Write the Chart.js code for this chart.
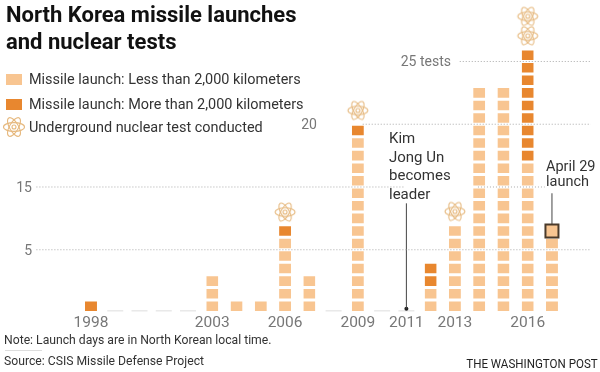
<!DOCTYPE html>
<html>
<head>
<meta charset="utf-8">
<script src="https://cdn.jsdelivr.net/npm/chart.js@4"></script>
<style>
  html, body { margin: 0; padding: 0; background: #fff; }
  #wrap { position: relative; width: 600px; height: 372px; overflow: hidden; font-family: "Liberation Sans", Arial, sans-serif; color: #333; }
  canvas { position: absolute; left: 0; top: 0; }
  .txt { position: absolute; white-space: nowrap; }
  h1 { position: absolute; left: 6px; top: 1px; margin: 0; font-size: 22px; line-height: 27px; font-weight: bold; color: #111; font-family: Roboto, sans-serif; }
  .leg { font-family: Roboto, sans-serif; font-size: 14.45px; left: 29px; color: #333; }
  .sw { position: absolute; left: 6px; width: 16px; height: 11px; }
  .ann { font-family: Roboto, sans-serif; font-size: 15px; color: #333; }
  .grid { font-family: Roboto, sans-serif; font-size: 14px; color: #777; transform: translate(-100%, -50%); }
  .foot { font-family: Roboto, sans-serif; font-size: 12.2px; color: #333; left: 4px; }
</style>
</head>
<body>
<div id="wrap">
  <canvas id="myChart" width="600" height="372"></canvas>
  <h1>North Korea missile launches<br>and nuclear tests</h1>
  <div class="sw" style="top:74px;background:#f8c591"></div>
  <div class="txt leg" style="top:71px">Missile launch: Less than 2,000 kilometers</div>
  <div class="sw" style="top:99px;background:#e8872f"></div>
  <div class="txt leg" style="top:96px">Missile launch: More than 2,000 kilometers</div>
  <canvas id="legendAtom" width="24" height="24" style="left:2px;top:115px"></canvas>
  <div class="txt leg" style="top:119px">Underground nuclear test conducted</div>
  <div class="txt ann" style="left:389px;top:129px;line-height:18.5px">Kim<br>Jong Un<br>becomes<br>leader</div>
  <div class="txt ann" style="left:546px;top:159px;line-height:15px;font-size:14.5px">April 29<br>launch</div>
  <div class="txt foot" style="top:333px">Note: Launch days are in North Korean local time.</div>
  <div style="position:absolute;left:5px;top:350px;width:37px;height:1px;background:#ddd"></div>
  <div class="txt foot" style="top:354px">Source: CSIS Missile Defense Project</div>
  <div class="txt" style="right:2px;top:356px;font:13px Roboto, sans-serif;color:#222;transform:scaleX(0.89);transform-origin:right center">THE WASHINGTON POST</div>
</div>
<script>
const years = [1998, 1999, 2000, 2001, 2002, 2003, 2004, 2005, 2006, 2007, 2008, 2009, 2010, 2011, 2012, 2013, 2014, 2015, 2016, 2017];
const shortRange = [0, 0, 0, 0, 0, 3, 1, 1, 6, 3, 0, 14, 0, 0, 2, 7, 18, 18, 12, 7];
const longRange = [1, 0, 0, 0, 0, 0, 0, 0, 1, 0, 0, 1, 0, 0, 2, 0, 0, 0, 9, 0];
const nuclearX = [2006, 2009, 2013, 2016, 2016];
const nuclearY = [8, 16.1, 8.05, 22.05, 23.6];
const tickYears = [1998, 2003, 2006, 2009, 2011, 2013, 2016];
const gridValues = [5, 10, 15, 20];
const gridLabels = ['5', '15', '20', '25 tests'];

const LIGHT = '#f8c591';
const DARK = '#e8872f';

function drawAtom(ctx, cx, cy, r) {
    ctx.save();
    ctx.translate(cx, cy);
    ctx.strokeStyle = '#e6b97f';
    ctx.lineWidth = 1.1;
    for (let a = 0; a < 3; a++) {
        ctx.save();
        ctx.rotate(a * Math.PI / 3);
        ctx.beginPath();
        ctx.ellipse(0, 0, r, r * 0.42, 0, 0, Math.PI * 2);
        ctx.stroke();
        ctx.restore();
    }
    ctx.beginPath();
    ctx.arc(0, 0, 2, 0, Math.PI * 2);
    ctx.stroke();
    ctx.restore();
}

const atomIcon = document.createElement('canvas');
atomIcon.width = 24;
atomIcon.height = 24;
drawAtom(atomIcon.getContext('2d'), 12, 12, 10);
drawAtom(document.getElementById('legendAtom').getContext('2d'), 12, 12, 10.5);

const datasets = [];

// one stacked dataset per layer, so each launch is its own square
const totals = years.map((y, i) => shortRange[i] + longRange[i]);
const tallest = Math.max(...totals);
for (let k = 0; k < tallest; k++) {
    const layer = [];
    const colors = [];
    years.forEach((y, i) => {
        if (totals[i] > k) {
            layer.push({ x: y, y: 1 });
            colors.push(k < shortRange[i] ? LIGHT : DARK);
        }
    });
    datasets.push({
        type: 'bar',
        stack: 'launches',
        data: layer,
        backgroundColor: colors,
        borderColor: 'rgba(0,0,0,0)',
        borderWidth: { top: 1.5, bottom: 1.5, left: 0, right: 0 },
        borderSkipped: false,
        inflateAmount: 0,
        barThickness: 12,
        order: 5
    });
}

function ruleLine(points, color, dash, width, order) {
    return {
        type: 'line',
        data: points,
        borderColor: color,
        borderDash: dash,
        borderWidth: width,
        pointRadius: 0,
        tension: 0,
        order: order
    };
}

// dotted rules sit over the squares, and stop at their labels
datasets.push(ruleLine([{ x: 1995.75, y: gridValues[0] }, { x: 2018.6, y: gridValues[0] }], '#aaa', [1, 2], 1, 1));
datasets.push(ruleLine([{ x: 1995.75, y: gridValues[1] }, { x: 2010.9, y: gridValues[1] }], '#aaa', [1, 2], 1, 1));
datasets.push(ruleLine([{ x: 2013.95, y: gridValues[1] }, { x: 2016.7, y: gridValues[1] }], '#aaa', [1, 2], 1, 1));
datasets.push(ruleLine([{ x: 2009.2, y: gridValues[2] }, { x: 2018.6, y: gridValues[2] }], '#aaa', [1, 2], 1, 1));
datasets.push(ruleLine([{ x: 2013.2, y: gridValues[3] }, { x: 2018.6, y: gridValues[3] }], '#aaa', [1, 2], 1, 1));

// faint dash on the baseline for years with no launch
years.forEach((y, i) => {
    if (totals[i] === 0) {
        datasets.push(ruleLine([{ x: y - 0.33, y: 0.13 }, { x: y + 0.33, y: 0.13 }], '#ddd', [], 1, 6));
    }
});

// leader lines
datasets.push(ruleLine([{ x: 2011, y: 0.3 }, { x: 2011, y: 8.7 }], '#444', [], 1, 2));
datasets.push({
    type: 'scatter',
    data: [{ x: 2011, y: 0.3 }],
    pointRadius: 2,
    backgroundColor: '#222',
    borderWidth: 0,
    order: 2
});
datasets.push(ruleLine([{ x: 2017, y: 7 }, { x: 2017, y: 9.5 }], '#444', [], 1, 2));

// highlighted April 29 launch
datasets.push({
    type: 'scatter',
    data: [{ x: 2017, y: 6.5 }],
    pointStyle: 'rect',
    pointRadius: 9.2,
    backgroundColor: LIGHT,
    borderColor: '#4a3a2a',
    borderWidth: 2,
    order: 0
});

datasets.push({
    type: 'scatter',
    data: nuclearX.map((x, i) => ({ x: x, y: nuclearY[i] })),
    pointStyle: atomIcon,
    order: 0
});

const chart = new Chart(document.getElementById('myChart'), {
    data: { datasets: datasets },
    options: {
        responsive: false,
        animation: false,
        events: [],
        layout: { padding: 0, autoPadding: false },
        plugins: { legend: { display: false }, tooltip: { enabled: false }, title: { display: false } },
        scales: {
            x: {
                type: 'linear',
                offset: false,
                min: 1994.25,
                max: 2018.98,
                grid: { display: false },
                border: { display: false },
                afterBuildTicks: function (scale) {
                    scale.ticks = tickYears.map(function (v) { return { value: v }; });
                },
                afterFit: function (scale) {
                    scale.height = 59.5;
                },
                ticks: {
                    autoSkip: false,
                    maxRotation: 0,
                    padding: -7,
                    color: '#777',
                    font: { family: 'Roboto', size: 15.5 },
                    callback: function (v) { return String(v); }
                }
            },
            y: {
                display: false,
                min: 0,
                max: 24.9
            }
        }
    }
});

// tick labels for the dotted rules, placed with the y scale
const labelRight = [32, 32, 317, 451];
gridValues.forEach(function (v, i) {
    const el = document.createElement('div');
    el.className = 'txt grid';
    el.textContent = gridLabels[i];
    el.style.left = labelRight[i] + 'px';
    el.style.top = chart.scales.y.getPixelForValue(v) + 'px';
    document.getElementById('wrap').appendChild(el);
});
</script>
</body>
</html>
